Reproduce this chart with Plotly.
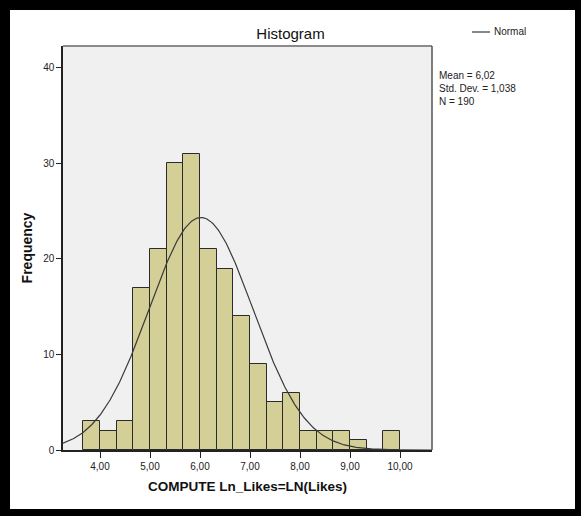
import numpy as np
import plotly.graph_objects as go

# ---- data ----
bin_width = 1/3
bin_starts = [3.667, 4.0, 4.333, 4.667, 5.0, 5.333, 5.667, 6.0, 6.333, 6.667,
              7.0, 7.333, 7.667, 8.0, 8.333, 8.667, 9.0, 9.333, 9.667]
counts = [3, 2, 3, 17, 21, 30, 31, 21, 19, 14, 9, 5, 6, 2, 2, 2, 1, 0, 2]
mean_val = 6.02
std_val = 1.038
n_val = 190
x_tickvals = [4, 5, 6, 7, 8, 9, 10]
x_ticktext = ["4,00", "5,00", "6,00", "7,00", "8,00", "9,00", "10,00"]
y_tickvals = [0, 10, 20, 30, 40]

x_range = [3.26, 10.64]
y_range = [0, 42.3]

# figure geometry (pixels)
W, H = 581, 516
L, R, T, B = 63, 149, 46, 66
pw, ph = W - L - R, H - T - B

def px(x):
    return (x - L) / pw

def py(y):
    return (H - B - y) / ph

centers = [s + bin_width / 2 for s in bin_starts]

xs = np.linspace(x_range[0], x_range[1], 400)
ys = n_val * bin_width / (std_val * np.sqrt(2 * np.pi)) * np.exp(-0.5 * ((xs - mean_val) / std_val) ** 2)

fig = go.Figure()
fig.add_trace(go.Bar(
    x=centers, y=counts, width=bin_width,
    marker=dict(color="#D4CE97", line=dict(color="#2b2b2b", width=1)),
    showlegend=False, hoverinfo="x+y"))
fig.add_trace(go.Scatter(
    x=xs, y=ys, mode="lines", line=dict(color="#3a3a3a", width=1.2),
    name="Normal", showlegend=False))

font_family = "Liberation Sans, Arial, sans-serif"

shapes = []
# plot frame top (gray) and right (dark gray)
shapes.append(dict(type="line", xref="paper", yref="paper", x0=0, x1=1, y0=1, y1=1,
                   line=dict(color="#8a8a8a", width=2)))
shapes.append(dict(type="line", xref="paper", yref="paper", x0=1, x1=1, y0=0, y1=1,
                   line=dict(color="#555555", width=1.5)))
# outer black frame bands
bands = [(0, 0, W, 10), (0, 0, 10, H), (575, 0, W, H), (0, 509, W, H)]
for (x0, y0, x1, y1) in bands:
    shapes.append(dict(type="rect", xref="paper", yref="paper",
                       x0=px(x0), x1=px(x1), y0=py(y1), y1=py(y0),
                       fillcolor="black", line=dict(width=0), layer="above"))
# legend line sample
shapes.append(dict(type="line", xref="paper", yref="paper",
                   x0=px(472), x1=px(490), y0=py(32), y1=py(32),
                   line=dict(color="#3a3a3a", width=1.2)))

def comma(v, nd):
    return f"{v:.{nd}f}".replace(".", ",")

annotations = [
    dict(text="Normal", xref="paper", yref="paper", x=px(492), y=py(32),
         xanchor="left", yanchor="middle", showarrow=False,
         font=dict(family=font_family, size=10, color="#222")),
    dict(text=f"Mean = {comma(mean_val, 2)}<br>Std. Dev. = {comma(std_val, 3)}<br>N = {n_val}",
         xref="paper", yref="paper", x=px(437), y=py(68),
         xanchor="left", yanchor="top", align="left", showarrow=False,
         font=dict(family=font_family, size=10, color="#222")),
]

fig.update_layout(
    width=W, height=H,
    margin=dict(l=L, r=R, t=T, b=B),
    paper_bgcolor="white", plot_bgcolor="#F0F0F0",
    title=dict(text="Histogram", x=0.5, xref="container", y=1 - 34 / H,
               yref="container", xanchor="center", yanchor="middle",
               font=dict(family=font_family, size=15, color="#111")),
    bargap=0,
    shapes=shapes, annotations=annotations,
    xaxis=dict(range=x_range, tickvals=x_tickvals, ticktext=x_ticktext,
               showgrid=False, zeroline=False, showline=True, linecolor="#222",
               linewidth=1.5, ticks="outside", ticklen=6, tickcolor="#222",
               tickfont=dict(family=font_family, size=10, color="#222"),
               title=dict(text="<b>COMPUTE Ln_Likes=LN(Likes)</b>", standoff=11,
                          font=dict(family=font_family, size=13.5, color="#111"))),
    yaxis=dict(range=y_range, tickvals=y_tickvals,
               showgrid=False, zeroline=False, showline=True, linecolor="#222",
               linewidth=1.5, ticks="outside", ticklen=5, tickcolor="#222",
               tickfont=dict(family=font_family, size=10, color="#222"),
               title=dict(text="<b>Frequency</b>", standoff=7,
                          font=dict(family=font_family, size=14, color="#111"))),
)

fig.write_html("out.html")
